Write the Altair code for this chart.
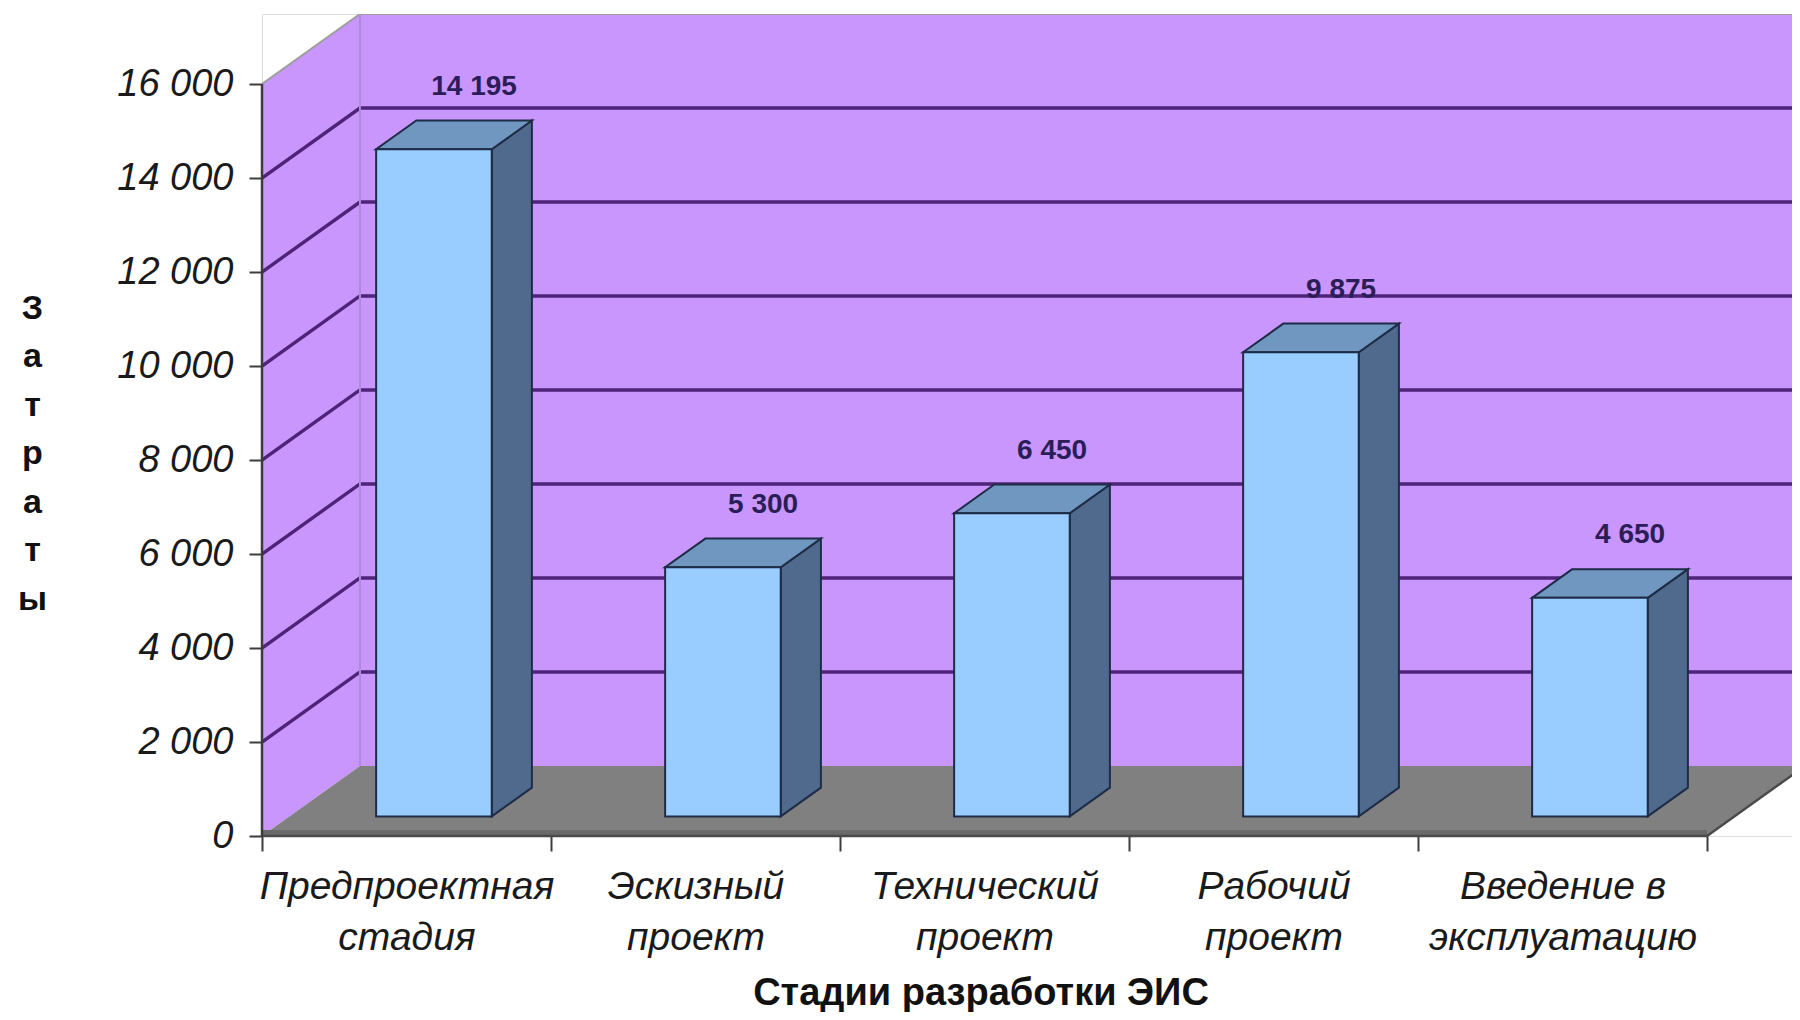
import json
import altair as alt
import pandas as pd

# ---------------- data ----------------
categories = ["Предпроектная стадия", "Эскизный проект", "Технический проект",
              "Рабочий проект", "Введение в эксплуатацию"]
category_lines = [["Предпроектная", "стадия"], ["Эскизный", "проект"],
                  ["Технический", "проект"], ["Рабочий", "проект"],
                  ["Введение в", "эксплуатацию"]]
values = [14195, 5300, 6450, 9875, 4650]
y_ticks = [0, 2000, 4000, 6000, 8000, 10000, 12000, 14000, 16000]
x_title = "Стадии разработки ЭИС"
y_title = "Затраты"

# ---------------- layout / 3D geometry constants ----------------
W, H = 1530, 822
PAD = {"left": 254, "top": 6, "right": 0, "bottom": 176}
BAND_PX = 289.0
N = len(categories)
X_MAX = W / BAND_PX
Y_TOP = max(y_ticks)
DY = 1490.0          # depth of the box, in value units
Y_MAX = Y_TOP + DY
DX = 0.339           # depth of the box, in category units
BAR_W = 0.4
D_F, D_B = 0.28, 0.69
FLOOR_T = 130.0

WALL = "#C896FC"
GRID = "#4E2378"
FLOOR = "#808080"
FLOOR_EDGE = "#6A6A6A"
BAR_FRONT = "#99CCFF"
BAR_TOP = "#6F97BF"
BAR_SIDE = "#4F6A8C"
BAR_STROKE = "#1F2C48"
LABEL = "#2B1D57"
AXIS = "#3C3C3C"
FONT = "Liberation Sans"

xs = alt.Scale(domain=[0, X_MAX], nice=False, zero=False)
ys = alt.Scale(domain=[0, Y_MAX], nice=False, zero=False)

fmt = "replace(format(datum.value, ','), ',', ' ')"
lines_literal = json.dumps(category_lines, ensure_ascii=False)

x_axis = alt.Axis(
    values=list(range(N + 1)), domain=False, grid=False,
    tickSize=15, tickWidth=2, tickColor=AXIS,
    labelExpr=f"datum.value < {N} ? {lines_literal}[floor(datum.value)] : ''",
    labelOffset=BAND_PX / 2, labelPadding=16, labelLineHeight=51,
    labelFontSize=39, labelFontStyle="italic", labelColor="#1a1a1a",
    labelLimit=0, labelOverlap=False, labelFlush=False, labelBound=False,
    labelAlign="center",
    title=x_title, titleFontSize=38, titleFontWeight="bold", titleColor="#111111",
    titleX=2.5 * BAND_PX - 4, titleY=168, titleAlign="center", titleBaseline="alphabetic",
)
y_axis = alt.Axis(
    values=y_ticks, domain=False, grid=False,
    tickSize=13, tickWidth=2, tickColor=AXIS,
    labelExpr=fmt, labelFontSize=38, labelFontStyle="italic", labelColor="#1a1a1a",
    labelPadding=16,
    title=list(y_title), titleAngle=0, titleFontSize=34, titleFontWeight="bold",
    titleColor="#111111", titleLineHeight=48.5, titleAlign="center",
    titleBaseline="alphabetic", titleX=-230, titleY=304,
)


def XQ(f, **kw):
    return alt.X(f"{f}:Q", scale=xs, axis=x_axis, **kw)


def YQ(f, **kw):
    return alt.Y(f"{f}:Q", scale=ys, axis=y_axis, **kw)


# back wall
back_df = pd.DataFrame({"x": [DX], "x2": [N + DX], "y": [DY], "y2": [Y_MAX]})
back = alt.Chart(back_df).mark_rect(color=WALL, clip=True).encode(
    x=XQ("x"), x2="x2:Q", y=YQ("y"), y2="y2:Q")

# left wall
lw_df = pd.DataFrame({"x": [0, DX], "y": [0, DY], "y2": [Y_TOP, Y_MAX]})
left_wall = alt.Chart(lw_df).mark_area(color=WALL, orient="vertical").encode(
    x=XQ("x"), y=YQ("y", stack=None), y2="y2:Q")

# floor
fl_df = pd.DataFrame({"y": [0, DY], "x": [0, DX], "x2": [N, N + DX]})
floor = alt.Chart(fl_df).mark_area(color=FLOOR, orient="horizontal", clip=True).encode(
    y=YQ("y"), x=XQ("x", stack=None), x2="x2:Q")

strip_df = pd.DataFrame({"x": [0], "x2": [N], "y": [0], "y2": [FLOOR_T]})
strip = alt.Chart(strip_df).mark_rect(color=FLOOR_EDGE).encode(
    x=XQ("x"), x2="x2:Q", y=YQ("y"), y2="y2:Q")

# gridlines on left & back walls
g_rows = []
for t in y_ticks[1:-1]:
    g_rows += [{"t": t, "x": 0, "y": t}, {"t": t, "x": DX, "y": t + DY},
               {"t": t, "x": N + DX, "y": t + DY}]
grid = alt.Chart(pd.DataFrame(g_rows)).mark_line(color=GRID, strokeWidth=3.4, clip=True).encode(
    x=XQ("x"), y=YQ("y"), detail="t:N")

outline_df = pd.DataFrame({"x": [0, DX, N + DX], "y": [Y_TOP, Y_MAX, Y_MAX]})
outline = alt.Chart(outline_df).mark_line(color="#9E9E9E", strokeWidth=2, clip=True).encode(
    x=XQ("x"), y=YQ("y"))

edge_df = pd.DataFrame({"x": [DX], "y": [DY], "y2": [Y_MAX]})
back_edge = alt.Chart(edge_df).mark_rule(color="#B08BD8", strokeWidth=2).encode(
    x=XQ("x"), y=YQ("y"), y2="y2:Q")

# bars
front_rows, top_rows, side_rows, lab_rows = [], [], [], []
for i, (c, v) in enumerate(zip(categories, values)):
    xl = i + 0.5 - BAR_W / 2
    xr = i + 0.5 + BAR_W / 2
    front_rows.append({"cat": c, "x": xl + D_F * DX, "x2": xr + D_F * DX,
                       "y": D_F * DY, "y2": v + D_F * DY})
    for d in (D_F, D_B):
        top_rows.append({"cat": c, "y": v + d * DY, "x": xl + d * DX, "x2": xr + d * DX})
        side_rows.append({"cat": c, "x": xr + d * DX, "y": d * DY, "y2": v + d * DY})
    lab_rows.append({"cat": c, "value": v, "x": i + 0.5 + D_B * DX, "y": v + D_B * DY})

side = alt.Chart(pd.DataFrame(side_rows)).mark_area(
    orient="vertical", color=BAR_SIDE, stroke=BAR_STROKE, strokeWidth=2).encode(
    x=XQ("x"), y=YQ("y", stack=None), y2="y2:Q", detail="cat:N")
top = alt.Chart(pd.DataFrame(top_rows)).mark_area(
    orient="horizontal", color=BAR_TOP, stroke=BAR_STROKE, strokeWidth=2).encode(
    y=YQ("y"), x=XQ("x", stack=None), x2="x2:Q", detail="cat:N")
front = alt.Chart(pd.DataFrame(front_rows)).mark_rect(
    color=BAR_FRONT, stroke=BAR_STROKE, strokeWidth=2).encode(
    x=XQ("x"), x2="x2:Q", y=YQ("y"), y2="y2:Q")

labels = alt.Chart(pd.DataFrame(lab_rows)).transform_calculate(
    txt="replace(format(datum.value, ','), ',', ' ')"
).mark_text(font=FONT, fontSize=28, fontWeight="bold", color=LABEL,
            baseline="bottom", align="center", dy=-20).encode(
    x=XQ("x"), y=YQ("y"), text="txt:N")

# front & right floor edge, y axis line
fe_df = pd.DataFrame({"x": [0, N, N + DX], "y": [0, 0, DY]})
floor_edge = alt.Chart(fe_df).mark_line(color="#4A4A4A", strokeWidth=2.5).encode(
    x=XQ("x"), y=YQ("y"))

ya_df = pd.DataFrame({"x": [0], "y": [0], "y2": [Y_TOP]})
y_line = alt.Chart(ya_df).mark_rule(color=AXIS, strokeWidth=2.5).encode(
    x=XQ("x"), y=YQ("y"), y2="y2:Q")

chart = alt.layer(
    back, left_wall, floor, strip, grid, outline, back_edge,
    side, top, front, floor_edge, y_line, labels
).properties(
    width=W, height=H, padding=PAD,
    autosize=alt.AutoSizeParams(type="none"),
    background="white",
).configure_view(stroke=None).configure(font=FONT)

chart.save("out.html", embed_options={"renderer": "svg", "actions": False})
